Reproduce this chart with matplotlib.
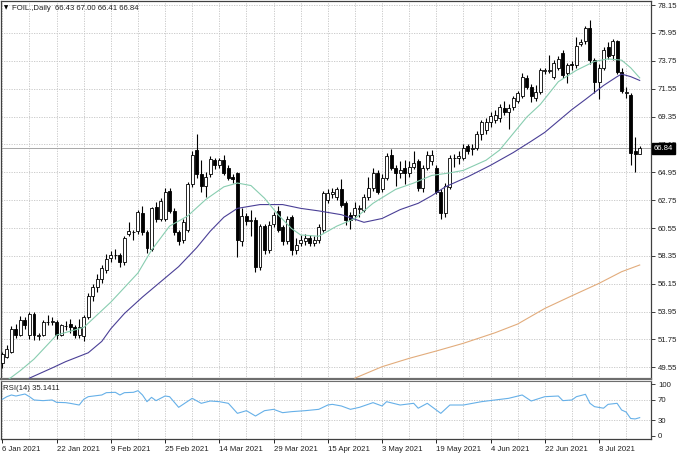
import matplotlib
matplotlib.use("Agg")
import matplotlib.pyplot as plt
import numpy as np

plt.rcParams['font.family'] = ['Liberation Sans', 'DejaVu Sans']

# ---------------- data ----------------
opens = [49.9, 50.4, 50.8, 52.6, 52.1, 53.3, 52.1, 53.8, 52.0, 52.1,
         53.1, 53.1, 53.1, 52.1, 52.8, 53.0, 52.7, 52.1, 52.0, 53.55,
         55.2, 55.9, 56.5, 57.2, 58.2, 58.4, 58.4, 57.9, 60.1, 60.2,
         60.3, 61.7, 60.2, 58.9, 62.2, 61.3, 61.3, 63.5, 61.9, 60.2,
         59.6, 60.4, 64.0, 66.7, 64.8, 63.9, 64.8, 65.9, 65.5, 65.9,
         65.3, 64.6, 64.9, 59.5, 61.5, 61.1, 61.2, 57.5, 60.7, 58.8,
         60.9, 61.9, 60.6, 59.5, 61.4, 58.8, 59.4, 59.5, 59.8, 59.4,
         59.6, 60.4, 62.8, 63.2, 63.0, 63.6, 62.5, 61.6, 61.6, 62.05,
         62.0, 63.0, 63.7, 64.9, 63.6, 64.5, 66.3, 65.3, 64.9, 65.3,
         64.9, 65.4, 65.8, 63.7, 65.3, 65.8, 65.3, 63.4, 61.7, 63.8,
         66.05, 66.1, 66.1, 67.0, 66.8, 66.9, 68.0, 68.3, 68.9, 69.1,
         69.2, 70.0, 69.7, 70.1, 70.6, 71.0, 72.4, 71.7, 70.8, 71.3,
         72.95, 72.95, 72.5, 73.2, 74.4, 72.8, 73.5, 73.4, 75.1, 75.3,
         76.3, 73.8, 72.1, 73.2, 74.8, 74.2, 75.3, 72.9, 71.2, 71.05,
         66.6, 66.43]
highs = [50.8, 51.3, 52.8, 53.0, 53.6, 53.5, 53.9, 53.9, 52.3, 53.3,
         53.7, 53.5, 53.3, 53.0, 53.2, 53.4, 52.9, 53.4, 53.7, 55.4,
         56.1, 56.9, 57.6, 58.5, 58.7, 58.9, 58.6, 59.9, 61.0, 60.4,
         62.0, 62.25, 60.4, 62.2, 62.6, 62.9, 63.7, 63.7, 62.1, 60.4,
         61.3, 64.2, 66.6, 68.0, 65.9, 65.0, 66.2, 66.1, 66.1, 66.3,
         65.5, 64.8, 65.0, 62.1, 61.7, 62.0, 61.4, 60.9, 60.9, 61.1,
         61.8, 62.3, 60.8, 61.5, 61.6, 59.8, 60.0, 60.1, 60.0, 59.9,
         60.9, 63.5, 63.6, 63.7, 63.8, 64.4, 62.7, 61.8, 62.6, 62.4,
         63.2, 64.6, 65.3, 65.1, 64.8, 66.5, 66.8, 65.5, 65.8, 65.9,
         65.8, 66.6, 66.0, 65.5, 66.6, 66.7, 65.5, 63.6, 64.1, 66.3,
         66.4, 66.6, 67.2, 67.2, 67.2, 68.2, 69.1, 69.2, 69.7, 69.9,
         70.3, 70.6, 70.3, 71.0, 71.4, 72.8, 72.6, 71.9, 71.8, 73.2,
         73.2, 74.2, 73.8, 74.1, 74.6, 73.6, 73.7, 75.65, 75.5, 76.5,
         77.0, 74.0, 73.5, 74.8, 75.2, 75.5, 75.4, 73.2, 71.7, 71.2,
         67.7, 67.00]
lows = [49.5, 50.3, 50.7, 51.9, 52.0, 52.6, 51.8, 51.7, 51.7, 52.0,
        52.9, 52.9, 51.8, 52.0, 52.5, 52.3, 51.9, 51.9, 51.6, 53.4,
        54.8, 55.5, 56.2, 57.0, 57.9, 58.1, 57.5, 57.6, 59.9, 59.6,
        60.1, 60.0, 58.6, 58.7, 61.0, 61.1, 61.1, 61.7, 60.0, 59.2,
        59.4, 60.2, 63.8, 64.5, 63.4, 63.0, 64.6, 65.2, 65.3, 64.7,
        64.3, 64.1, 58.3, 59.1, 60.8, 59.9, 57.1, 57.2, 58.5, 58.6,
        60.6, 60.2, 59.2, 59.3, 58.4, 58.5, 59.1, 59.2, 59.1, 59.1,
        59.4, 60.2, 62.5, 62.9, 62.8, 62.2, 60.8, 60.5, 61.2, 61.4,
        61.8, 62.8, 63.5, 63.2, 63.4, 64.3, 65.1, 63.9, 64.5, 64.0,
        64.6, 65.2, 63.5, 63.4, 65.1, 65.5, 63.2, 61.3, 61.4, 63.6,
        65.4, 65.6, 65.9, 66.4, 66.3, 66.7, 67.5, 68.0, 68.5, 68.8,
        68.9, 69.5, 68.4, 69.9, 70.4, 70.8, 71.5, 70.5, 70.6, 71.1,
        72.7, 72.8, 72.3, 73.0, 72.4, 72.0, 73.0, 73.2, 74.9, 75.1,
        73.5, 71.2, 70.7, 73.0, 73.9, 73.8, 72.7, 71.2, 70.8, 65.5,
        65.0, 66.41]
closes = [50.6, 51.0, 52.6, 52.1, 53.3, 52.9, 53.8, 52.1, 52.1, 53.1,
          53.15, 53.2, 52.1, 52.9, 52.85, 52.7, 52.1, 52.7, 53.55, 55.2,
          55.9, 56.5, 57.4, 58.1, 58.4, 58.45, 57.9, 59.8, 60.3, 60.22,
          61.8, 60.2, 59.0, 62.1, 61.3, 62.7, 63.4, 61.9, 60.2, 59.5,
          61.0, 64.0, 66.3, 64.8, 63.9, 64.6, 66.0, 65.5, 65.9, 64.9,
          64.5, 64.4, 59.6, 61.5, 61.1, 61.15, 57.5, 60.7, 58.8, 60.8,
          61.6, 60.4, 59.5, 61.3, 58.8, 59.2, 59.6, 59.8, 59.4, 59.6,
          60.6, 63.3, 63.3, 63.4, 63.6, 62.4, 61.2, 61.2, 62.1, 62.1,
          63.0, 63.7, 64.9, 63.4, 64.5, 66.2, 65.3, 64.9, 65.1, 64.9,
          65.4, 65.7, 63.7, 65.3, 66.3, 66.3, 63.4, 61.7, 63.9, 66.1,
          66.1, 66.2, 66.9, 66.6, 66.9, 68.0, 68.9, 68.9, 69.4, 69.5,
          70.1, 69.7, 70.0, 70.8, 71.2, 72.5, 71.7, 71.0, 71.3, 73.0,
          73.0, 73.05, 73.6, 73.9, 72.6, 73.4, 73.45, 74.9, 75.2, 76.3,
          73.8, 72.1, 73.2, 74.6, 74.1, 75.3, 72.9, 71.4, 71.3, 66.5,
          66.4, 66.84]

# moving averages (bar index, value)
ma_fast_bar = [1, 4, 7, 12, 18, 24, 30, 33, 37, 41, 45, 47, 49, 52, 55, 58, 61,
               64, 66, 70, 74, 78, 82, 87, 91, 95, 99, 102, 107, 110, 113, 116,
               119, 123, 127, 131, 134, 137, 139, 141]
ma_fast_val = [48.5, 49.3, 50.2, 52.1, 52.7, 54.7, 57.0, 58.8, 60.7, 61.5,
               62.8, 63.3, 63.8, 64.1, 63.9, 62.9, 61.6, 60.5, 60.0, 59.9,
               60.7, 61.3, 62.5, 63.6, 64.1, 64.7, 64.9, 65.1, 65.9, 66.7,
               68.0, 69.3, 70.3, 72.1, 73.0, 73.7, 73.9, 73.8, 73.2, 72.4]
ma_mid_bar = [6, 11, 14, 19, 22, 24, 27, 31, 35, 39, 43, 46, 49, 52, 57, 62,
              66, 70, 75, 80, 84, 88, 92, 95, 98, 103, 108, 113, 117, 120,
              126, 129, 133, 136, 137, 139, 141]
ma_mid_val = [48.7, 49.5, 50.0, 50.7, 51.6, 52.6, 53.8, 55.1, 56.3, 57.5,
              59.0, 60.3, 61.4, 62.1, 62.4, 62.4, 62.1, 61.9, 61.6, 61.0,
              61.3, 62.0, 62.5, 63.1, 63.8, 64.6, 65.5, 66.5, 67.4, 68.1,
              69.9, 70.7, 71.8, 72.5, 72.7, 72.5, 72.2]
ma_slow_bar = [78, 84, 90, 96, 102, 109, 114, 120, 126, 132, 137, 141]
ma_slow_val = [48.7, 49.6, 50.26, 50.84, 51.45, 52.28, 52.97, 54.2, 55.2,
               56.18, 57.1, 57.63]

rsi_bar = [0, 1, 2, 3, 5, 6, 7, 9, 11, 12, 14, 15, 17, 18, 19, 22, 23, 25,
           26, 27, 29, 30, 31, 32, 33, 34, 36, 37, 39, 42, 44, 46, 48, 50,
           52, 54, 56, 58, 60, 62, 64, 67, 70, 72, 73, 75, 77, 79, 82, 84,
           85, 88, 91, 92, 94, 97, 99, 102, 106, 109, 112, 115, 117, 120,
           123, 124, 126, 127, 129, 130, 131, 133, 134, 136, 137, 138, 139,
           140, 141]
rsi_val = [70.8, 75.9, 79.2, 77.2, 81.1, 75.9, 69.5, 68.2, 69.5, 64.9, 64.3,
           63.0, 59.7, 70.8, 75.9, 79.2, 83.7, 84.4, 79.2, 83.7, 84.4, 87.6,
           79.2, 66.2, 74.6, 68.2, 77.2, 75.9, 55.2, 72.7, 63.0, 67.5, 66.2,
           63.0, 43.5, 48.7, 38.3, 48.7, 51.3, 44.8, 46.8, 48.7, 51.3, 59.7,
           61.0, 57.8, 51.3, 55.2, 64.3, 57.8, 66.2, 59.7, 63.0, 53.5, 63.0,
           43.5, 59.7, 59.7, 66.2, 69.5, 72.7, 79.2, 67.5, 75.9, 77.2, 68.2,
           69.5, 75.9, 80.5, 63.0, 56.5, 53.5, 61.0, 63.0, 50.0, 46.0, 33.5,
           32.6, 35.14]

price_ticks = [78.15, 75.95, 73.75, 71.55, 69.35, 67.15, 64.95, 62.75, 60.55,
               58.35, 56.15, 53.95, 51.75, 49.55]
rsi_ticks = [0, 30, 70, 100]
date_bars = [0, 12, 24, 36, 48, 60, 72, 84, 96, 108, 120, 132]
date_labels = ['6 Jan 2021', '22 Jan 2021', '9 Feb 2021', '25 Feb 2021',
               '14 Mar 2021', '29 Mar 2021', '15 Apr 2021', '3 May 2021',
               '19 May 2021', '4 Jun 2021', '22 Jun 2021', '8 Jul 2021']
last_price = 66.84
title_text = 'FOIL.,Daily  66.43 67.00 66.41 66.84'
rsi_text = 'RSI(14) 35.1411'

# ---------------- figure ----------------
W, H = 680, 453
fig = plt.figure(figsize=(W / 100, H / 100), dpi=100)
fig.patch.set_facecolor('white')

ax = fig.add_axes([1 / W, 1 - 379 / H, 650 / W, 378 / H])
axr = fig.add_axes([1 / W, 1 - 439 / H, 650 / W, 58 / H])

n = len(closes)
x = np.arange(n)
xlim = (-0.3, 143.5)
grid_kw = dict(color='#c4c4c4', lw=0.6, ls=(0, (1.5, 1.5)), zorder=0)

for a in (ax, axr):
    a.set_xlim(*xlim)
    a.set_facecolor('white')
    for gx in range(0, 144, 6):
        a.axvline(gx, **grid_kw)
    for s in a.spines.values():
        s.set_color('#404040')
        s.set_linewidth(0.9)
    a.yaxis.tick_right()
    a.tick_params(axis='y', direction='out', length=3, width=0.6, pad=2,
                  labelsize=5.6, colors='#202020')

ax.set_ylim(48.63, 78.47)
for p in price_ticks:
    ax.axhline(p, **grid_kw)
ax.set_yticks(price_ticks)
ax.set_yticklabels([f'{p:.2f}' for p in price_ticks])
ax.set_xticks([])
ax.spines['bottom'].set_color('#6e6e6e')
ax.spines['bottom'].set_linewidth(1.6)

# candles
o = np.array(opens); c = np.array(closes)
hi = np.array(highs); lo = np.array(lows)
up = c >= o
ax.vlines(x, lo, hi, color='black', lw=0.8, zorder=2)
body_bot = np.minimum(o, c)
body_h = np.maximum(np.abs(c - o), 0.04)
ax.bar(x[up], body_h[up], bottom=body_bot[up], width=0.66, color='white',
       edgecolor='black', linewidth=0.6, zorder=3)
ax.bar(x[~up], body_h[~up], bottom=body_bot[~up], width=0.66, color='black',
       edgecolor='black', linewidth=0.6, zorder=3)

# moving averages
ax.plot(ma_slow_bar, ma_slow_val, color='#e2ac7c', lw=0.8, zorder=4)
ax.plot(ma_mid_bar, ma_mid_val, color='#4a3f96', lw=0.8, zorder=4)
ax.plot(ma_fast_bar, ma_fast_val, color='#88cdb0', lw=0.8, zorder=4)

# last price line and label
ax.axhline(last_price, color='#a8a8a8', lw=0.7, zorder=1)
ax.annotate(f'{last_price:.2f}', xy=(1.0, last_price), xycoords=('axes fraction', 'data'),
            xytext=(2, 0), textcoords='offset points', ha='left', va='center',
            fontsize=5.6, color='white', zorder=10, annotation_clip=False,
            bbox=dict(boxstyle='square,pad=0.25', fc='black', ec='black'))

# RSI panel
axr.set_ylim(-6.4, 106.4)
for r in (30, 70):
    axr.axhline(r, **grid_kw)
axr.plot(rsi_bar, rsi_val, color='#66b0e8', lw=0.8, zorder=3)
axr.set_yticks(rsi_ticks)
axr.set_yticklabels([str(t) for t in rsi_ticks])
axr.spines['top'].set_color('#6e6e6e')
axr.spines['top'].set_linewidth(0.8)
axr.set_xticks(date_bars)
axr.set_xticklabels(date_labels, ha='left', fontsize=5.6, color='#202020')
axr.tick_params(axis='x', direction='out', length=3, width=0.6, pad=2)
axr.text(0.003, 0.93, rsi_text, transform=axr.transAxes, fontsize=5.6,
         ha='left', va='top', color='#202020')

# title
fig.text(3.5 / W, 1 - 8 / H, '\u25BC', fontsize=4, ha='left', va='center',
         family='DejaVu Sans', color='black')
fig.text(11.5 / W, 1 - 8 / H, title_text, fontsize=5.6, ha='left', va='center',
         color='#202020')

fig.savefig('out.png', dpi=100, facecolor='white')
